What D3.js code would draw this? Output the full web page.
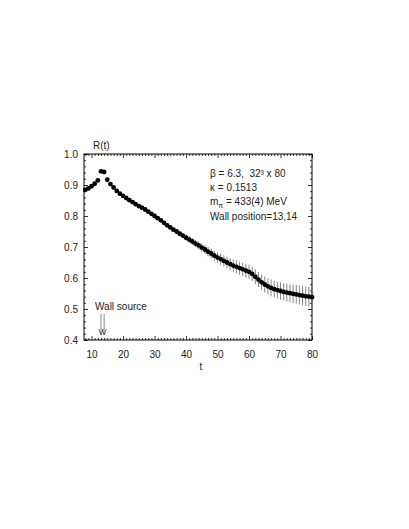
<!DOCTYPE html>
<html>
<head>
<meta charset="utf-8">
<script src="https://cdn.jsdelivr.net/npm/d3@7"></script>
<style>
  body { margin: 0; background: #fff; }
  svg text { font-family: "Liberation Sans", Arial, sans-serif; fill: #222; white-space: pre; }
</style>
</head>
<body>
<svg id="drawing_region"></svg>
<script>
// time slices
const t_values = [8, 9, 10, 11, 12, 13, 14, 15, 16, 17, 18, 19, 20, 21, 22, 23, 24, 25, 26, 27,
    28, 29, 30, 31, 32, 33, 34, 35, 36, 37, 38, 39, 40, 41, 42, 43, 44, 45, 46, 47,
    48, 49, 50, 51, 52, 53, 54, 55, 56, 57, 58, 59, 60, 61, 62, 63, 64, 65, 66, 67,
    68, 69, 70, 71, 72, 73, 74, 75, 76, 77, 78, 79, 80];

// R(t)
const r_values = [0.884, 0.889, 0.896, 0.904, 0.915, 0.944, 0.942, 0.917, 0.903, 0.892,
    0.881, 0.872, 0.865, 0.858, 0.851, 0.845, 0.838, 0.832, 0.827, 0.821,
    0.814, 0.807, 0.800, 0.793, 0.786, 0.778, 0.770, 0.763, 0.756, 0.750,
    0.743, 0.737, 0.730, 0.724, 0.718, 0.711, 0.705, 0.698, 0.692, 0.685,
    0.679, 0.672, 0.666, 0.661, 0.655, 0.650, 0.645, 0.640, 0.636, 0.632,
    0.628, 0.624, 0.620, 0.613, 0.604, 0.595, 0.586, 0.579, 0.573, 0.568,
    0.564, 0.561, 0.558, 0.555, 0.553, 0.551, 0.549, 0.547, 0.545, 0.543,
    0.541, 0.540, 0.538];

// error of R(t)
const r_errors = [0.001, 0.001, 0.001, 0.001, 0.001, 0.001, 0.001, 0.001, 0.001, 0.001,
    0.001, 0.001, 0.001, 0.001, 0.002, 0.002, 0.002, 0.002, 0.003, 0.003,
    0.003, 0.004, 0.004, 0.005, 0.005, 0.006, 0.006, 0.007, 0.007, 0.008,
    0.009, 0.009, 0.010, 0.011, 0.011, 0.012, 0.013, 0.013, 0.014, 0.015,
    0.016, 0.016, 0.017, 0.018, 0.018, 0.019, 0.019, 0.020, 0.021, 0.021,
    0.022, 0.022, 0.023, 0.023, 0.024, 0.024, 0.025, 0.026, 0.026, 0.027,
    0.027, 0.027, 0.028, 0.028, 0.029, 0.029, 0.030, 0.030, 0.030, 0.031,
    0.031, 0.032, 0.032];

const x_ticks = [10, 20, 30, 40, 50, 60, 70, 80];
const y_ticks = [0.4, 0.5, 0.6, 0.7, 0.8, 0.9, 1.0];
const wall_positions = [13, 14];

const info_lines = ["β = 6.3,  32³ x 80", "κ = 0.1513", "m_π = 433(4) MeV", "Wall position=13,14"];

const width = 409, height = 529;
const margin = { top: 154, right: 97, bottom: 189, left: 84 };
const inner_width = width - margin.left - margin.right;
const inner_height = height - margin.top - margin.bottom;

const svg = d3.select('#drawing_region')
    .attr('width', width)
    .attr('height', height);

const chart = svg.append('g')
    .attr('transform', `translate(${margin.left}, ${margin.top})`);

const xscale = d3.scaleLinear().domain([7.6, 80]).range([0, inner_width]);
const yscale = d3.scaleLinear().domain([0.4, 1.0]).range([inner_height, 0]);

const x_minor = d3.range(8, 81, 1).filter(v => v % 10 !== 0);
const y_minor = d3.range(0.42, 1.0, 0.02).filter(v => Math.abs(v * 10 - Math.round(v * 10)) > 1e-6);

function styleAxis(g) {
    g.select('.domain').remove();
    g.selectAll('line').attr('stroke', '#000').attr('stroke-width', 0.8);
    g.selectAll('text').style('font-size', '10px').attr('fill', '#222');
}

// bottom
chart.append('g').attr('transform', `translate(0, ${inner_height})`)
    .call(d3.axisBottom(xscale).tickValues(x_ticks).tickSize(-4).tickSizeOuter(0).tickPadding(11).tickFormat(d3.format('d')))
    .call(styleAxis);
chart.append('g').attr('transform', `translate(0, ${inner_height})`)
    .call(d3.axisBottom(xscale).tickValues(x_minor).tickSize(-2).tickSizeOuter(0).tickFormat(''))
    .call(styleAxis);
// top
chart.append('g')
    .call(d3.axisTop(xscale).tickValues(x_ticks).tickSize(-4).tickSizeOuter(0).tickFormat(''))
    .call(styleAxis);
chart.append('g')
    .call(d3.axisTop(xscale).tickValues(x_minor).tickSize(-2).tickSizeOuter(0).tickFormat(''))
    .call(styleAxis);
// left
chart.append('g')
    .call(d3.axisLeft(yscale).tickValues(y_ticks).tickSize(-4).tickSizeOuter(0).tickPadding(6).tickFormat(d3.format('.1f')))
    .call(styleAxis);
chart.append('g')
    .call(d3.axisLeft(yscale).tickValues(y_minor).tickSize(-2).tickSizeOuter(0).tickFormat(''))
    .call(styleAxis);
// right
chart.append('g').attr('transform', `translate(${inner_width}, 0)`)
    .call(d3.axisRight(yscale).tickValues(y_ticks).tickSize(-4).tickSizeOuter(0).tickFormat(''))
    .call(styleAxis);
chart.append('g').attr('transform', `translate(${inner_width}, 0)`)
    .call(d3.axisRight(yscale).tickValues(y_minor).tickSize(-2).tickSizeOuter(0).tickFormat(''))
    .call(styleAxis);

// frame
chart.append('rect')
    .attr('x', 0).attr('y', 0)
    .attr('width', inner_width).attr('height', inner_height)
    .attr('fill', 'none')
    .attr('stroke', '#000')
    .attr('stroke-width', 1);

const data = t_values.map((t, i) => ({ t: t, r: r_values[i], e: r_errors[i] }));

// error bars
chart.selectAll('.err')
    .data(data)
    .enter()
    .append('line')
    .attr('class', 'err')
    .attr('x1', d => xscale(d.t))
    .attr('x2', d => xscale(d.t))
    .attr('y1', d => yscale(d.r - d.e))
    .attr('y2', d => yscale(d.r + d.e))
    .attr('stroke', '#666')
    .attr('stroke-width', 0.8);

// points
chart.selectAll('circle')
    .data(data)
    .enter()
    .append('circle')
    .attr('cx', d => xscale(d.t))
    .attr('cy', d => yscale(d.r))
    .attr('r', 2.4)
    .attr('fill', '#000');

// axis titles
chart.append('text')
    .attr('x', 9).attr('y', -5)
    .style('font-size', '10px')
    .text('R(t)');
chart.append('text')
    .attr('x', inner_width / 2 + 3).attr('y', inner_height + 30)
    .attr('text-anchor', 'middle')
    .style('font-size', '10px')
    .text('t');

// info box
const info = chart.append('g').attr('transform', `translate(126, 0)`);
info_lines.forEach((s, i) => {
    const txt = info.append('text')
        .attr('x', 0)
        .attr('y', 23 + i * 14.2)
        .style('font-size', '10px');
    if (s.startsWith('m_π')) {
        txt.append('tspan').text('m');
        txt.append('tspan').attr('dy', 2.5).style('font-size', '7px').text('π');
        txt.append('tspan').attr('dy', -2.5).text(s.slice(3));
    } else {
        txt.text(s);
    }
});

// wall source arrows
chart.append('text')
    .attr('x', 11).attr('y', 156)
    .style('font-size', '10px')
    .text('Wall source');
wall_positions.forEach(w => {
    const xp = xscale(w);
    const ytop = 160, ybot = 181;
    chart.append('line')
        .attr('x1', xp).attr('x2', xp)
        .attr('y1', ytop).attr('y2', ybot)
        .attr('stroke', '#555').attr('stroke-width', 0.7);
    chart.append('path')
        .attr('d', `M${xp - 2.2},${ybot - 6} L${xp},${ybot} L${xp + 2.2},${ybot - 6}`)
        .attr('fill', 'none')
        .attr('stroke', '#333').attr('stroke-width', 0.7);
});
</script>
</body>
</html>
